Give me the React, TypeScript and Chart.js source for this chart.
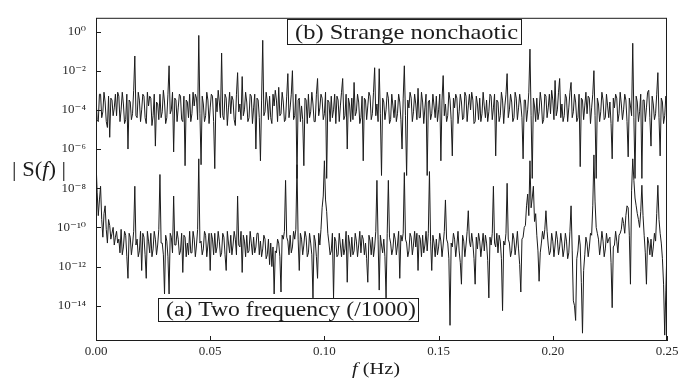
import React, { useEffect, useRef } from "react";
import { Chart, registerables } from "chart.js";

Chart.register(...registerables);

// frequency grid spacing (Hz); log10 |S(f)| values
const FREQ_STEP = 0.0005;

// (b) Strange nonchaotic : log10 |S(f)|
const strangeLog10 = [
  -3.4, -4.5, -4.6, -3.2, -3.2, -4.4, -4.1, -3.1, -3.6, -4.6, -4.9, -3.3, -5.4, -3.4, -3.5, -4.3, -3.9, -3.2, -4.3, -3.1,
  -3.3, -4.6, -4.0, -3.1, -3.7, -4.7, -4.5, -3.2, -6.0, -3.5, -3.6, -4.5, -4.2, -3.0, -1.25, -4.3, -4.4, -3.1, -3.5, -4.6,
  -4.0, -3.2, -3.3, -4.4, -4.7, -3.1, -3.8, -3.3, -3.4, -4.8, -4.3, -3.2, -5.85, -3.6, -3.7, -4.5, -3.2, -4.4, -4.1, -3.0,
  -3.6, -4.7, -4.4, -3.2, -1.75, -4.2, -4.0, -3.1, -6.15, -3.4, -3.5, -4.6, -3.9, -3.2, -3.3, -4.5, -4.6, -3.3, -6.85, -3.5,
  -3.6, -4.4, -3.2, -4.6, -4.2, -3.1, -3.8, -3.2, -3.4, -4.5, -0.2, -4.2, -6.8, -3.3, -3.7, -4.6, -4.3, -3.1, -3.5, -4.7,
  -3.9, -3.2, -3.3, -4.6, -7.0, -3.4, -4.1, -3.0, -3.6, -4.4, -1.1, -4.3, -4.5, -3.2, -3.4, -4.8, -3.9, -3.1, -4.2, -3.3,
  -3.5, -4.5, -4.8, -3.2, -2.1, -4.1, -3.7, -4.5, -2.3, -4.3, -4.0, -3.1, -3.6, -4.6, -4.4, -3.2, -3.3, -4.7, -3.9, -3.2,
  -6.0, -3.4, -3.5, -4.4, -6.6, -3.5, -0.45, -4.3, -4.1, -3.1, -3.6, -4.5, -3.3, -4.4, -4.7, -3.2, -3.8, -3.0, -3.5, -4.6,
  -2.85, -4.3, -4.2, -3.1, -3.6, -4.6, -4.5, -3.3, -2.15, -4.4, -3.9, -3.2, -2.0, -4.5, -4.3, -3.2, -7.5, -3.5, -3.4, -4.6,
  -3.8, -4.5, -6.85, -3.4, -3.5, -4.7, -3.2, -4.4, -4.1, -3.1, -3.7, -4.6, -4.6, -3.2, -2.4, -4.3, -3.9, -3.2, -3.4, -4.5,
  -4.2, -3.1, -7.5, -3.5, -3.6, -4.6, -3.3, -4.4, -4.0, -3.2, -4.7, -3.3, -3.5, -4.6, -3.8, -3.1, -2.4, -4.5, -4.3, -3.2,
  -6.0, -3.4, -3.7, -4.6, -3.4, -4.5, -2.6, -4.3, -4.1, -3.2, -3.6, -4.7, -4.4, -3.3, -6.6, -3.4, -3.5, -4.5, -3.8, -3.1,
  -3.3, -4.5, -4.2, -3.1, -1.85, -4.3, -3.7, -4.6, -1.9, -4.2, -7.35, -3.4, -3.6, -4.5, -4.0, -3.1, -3.4, -4.7, -4.5, -3.2,
  -3.8, -4.4, -3.5, -4.6, -4.2, -3.2, -3.6, -4.5, -6.0, -3.4, -1.75, -4.3, -7.35, -3.5, -3.9, -3.1, -3.4, -4.6, -4.1, -3.2,
  -3.7, -4.5, -2.9, -4.4, -4.4, -3.1, -3.6, -4.7, -3.9, -3.2, -7.35, -3.6, -3.5, -4.5, -4.2, -3.2, -3.8, -4.4, -3.3, -4.6,
  -4.0, -3.2, -6.6, -3.5, -2.25, -4.3, -3.7, -4.6, -4.3, -3.1, -3.5, -4.5, -6.35, -3.4, -3.9, -3.2, -3.4, -4.7, -4.1, -3.2,
  -3.6, -4.5, -4.4, -3.1, -3.3, -4.6, -3.8, -3.2, -4.0, -3.1, -3.5, -4.7, -4.6, -3.3, -3.7, -4.5, -3.4, -4.6, -4.2, -3.1,
  -3.8, -4.4, -3.5, -4.6, -4.1, -3.2, -3.3, -4.5, -3.9, -3.2, -6.35, -3.5, -3.6, -4.6, -4.3, -3.1, -3.5, -4.7, -3.8, -3.2,
  -2.15, -4.4, -4.0, -3.2, -3.6, -4.6, -4.4, -3.1, -3.4, -4.5, -3.9, -3.2, -3.7, -4.4, -6.5, -3.5, -3.5, -4.6, -4.0, -3.1,
  -0.9, -4.3, -7.5, -3.4, -3.8, -4.6, -3.4, -4.5, -4.1, -3.1, -3.6, -4.7, -4.5, -3.2, -3.3, -4.4, -3.9, -3.2, -4.2, -3.0,
  -3.5, -4.5, -2.5, -4.3, -4.0, -3.1, -2.4, -4.4, -3.7, -4.6, -4.3, -3.2, -3.4, -4.6, -3.9, -3.1, -2.6, -4.4, -4.1, -3.2,
  -3.6, -4.6, -4.4, -3.2, -6.9, -3.4, -3.5, -4.5, -3.8, -3.1, -4.2, -3.3, -3.4, -4.7, -3.9, -3.2, -2.0, -4.3, -7.5, -3.4,
  -3.7, -4.6, -4.1, -3.1, -3.5, -4.5, -4.4, -3.2, -3.8, -4.4, -3.6, -4.7, -6.5, -3.4, -3.9, -3.2, -3.4, -4.6, -4.2, -3.1,
  -3.7, -4.5, -4.0, -3.2, -3.5, -4.6, -6.4, -3.4, -3.8, -4.3, -0.6, -4.4, -7.5, -3.3, -3.6, -4.6, -4.1, -3.2, -7.5, -3.5,
  -3.5, -4.6, -3.9, -3.1, -3.0, -4.4, -5.85, -3.3, -3.7, -4.5, -4.2, -3.2, -2.1, -4.4, -6.35, -3.4, -3.6, -4.7, -4.3, -3.3,
  -3.9,
];

// (a) Two frequency (/1000) : log10 |S(f)|
const twoFreqLog10 = [
  -6.6, -8.2, -9.4, -8.6, -7.9, -9.6, -10.5, -9.3, -8.9, -10.1, -10.8, -9.6, -9.9, -10.6, -10.3, -10.0, -10.9, -10.5, -10.2, -10.8,
  -10.6, -11.3, -10.1, -11.4, -11.0, -10.2, -10.4, -11.5, -12.6, -10.3, -10.5, -11.4, -10.9, -10.2, -7.9, -10.9, -10.6, -11.5, -11.2, -10.2,
  -12.2, -10.3, -10.5, -11.4, -12.6, -10.2, -10.7, -11.3, -10.3, -11.5, -11.1, -10.2, -10.6, -11.4, -10.9, -10.1, -7.3, -10.8, -10.8, -11.4,
  -13.4, -10.4, -10.7, -11.5, -13.4, -10.3, -10.5, -11.3, -8.4, -10.9, -10.9, -10.2, -10.6, -11.4, -11.2, -10.3, -12.3, -10.4, -10.5, -11.5,
  -10.8, -11.4, -10.2, -11.3, -11.3, -10.2, -10.6, -11.5, -10.9, -10.1, -6.5, -10.8, -10.7, -11.4, -11.1, -10.2, -10.4, -11.5, -10.9, -10.3,
  -12.2, -10.3, -10.6, -11.4, -10.3, -11.3, -11.0, -10.2, -10.7, -11.5, -11.3, -10.3, -10.5, -11.4, -12.2, -10.2, -10.8, -11.3, -10.4, -11.4,
  -10.9, -10.2, -10.6, -11.4, -8.4, -10.9, -11.0, -10.2, -12.3, -10.4, -10.7, -11.5, -10.4, -11.3, -11.2, -10.2, -10.8, -11.4, -10.5, -11.3,
  -11.0, -10.3, -10.3, -11.4, -10.7, -11.5, -11.1, -10.4, -10.6, -11.6, -11.4, -10.6, -11.9, -10.8, -12.0, -11.0, -13.4, -11.2, -11.3, -10.6,
  -10.8, -11.5, -13.3, -10.4, -10.6, -10.2, -7.6, -10.5, -10.7, -11.4, -10.4, -11.3, -11.0, -10.2, -10.6, -10.1, -6.8, -10.6, -12.2, -10.3,
  -10.6, -11.4, -10.9, -10.2, -10.5, -11.5, -11.3, -10.3, -10.8, -11.4, -13.6, -10.4, -10.7, -11.5, -12.6, -10.3, -10.9, -10.1, -9.0, -8.4,
  -6.6, -8.6, -9.2, -10.3, -10.8, -11.4, -11.2, -10.3, -13.6, -10.5, -10.7, -11.5, -11.4, -10.3, -10.9, -11.5, -10.6, -11.4, -11.1, -10.2,
  -12.8, -10.4, -10.8, -11.5, -10.5, -11.4, -11.2, -10.3, -10.7, -11.5, -10.9, -10.2, -11.3, -10.4, -10.6, -11.4, -10.8, -11.6, -12.8, -10.4,
  -10.7, -11.4, -10.5, -11.5, -11.0, -10.2, -7.6, -10.6, -13.2, -10.4, -10.9, -11.3, -10.6, -11.5, -13.6, -10.3, -7.6, -10.5, -10.8, -11.4,
  -11.1, -10.3, -10.6, -11.4, -10.9, -10.2, -12.6, -10.4, -10.7, -10.3, -7.2, -10.6, -10.8, -11.5, -11.2, -10.3, -10.5, -11.4, -10.9, -10.2,
  -11.0, -10.3, -12.2, -10.4, -10.6, -11.5, -10.4, -11.3, -10.9, -10.2, -11.2, -10.3, -7.15, -10.7, -12.2, -10.4, -10.8, -11.5, -10.6, -11.4,
  -11.0, -10.3, -10.7, -11.5, -10.9, -10.2, -8.6, -10.6, -10.8, -11.6, -15.0, -10.8, -11.0, -10.3, -10.6, -11.5, -10.9, -10.2, -11.2, -11.8,
  -12.9, -10.4, -10.7, -11.5, -10.9, -10.2, -9.15, -10.7, -11.0, -10.3, -10.8, -11.6, -12.9, -10.5, -11.1, -10.3, -10.7, -11.5, -10.9, -10.3,
  -11.2, -10.4, -10.8, -11.7, -13.6, -10.5, -10.9, -10.3, -7.9, -10.8, -11.0, -10.3, -11.3, -10.4, -10.7, -11.6, -14.25, -10.7, -10.9, -10.3,
  -7.75, -10.6, -10.8, -11.5, -11.2, -10.3, -10.6, -11.4, -10.9, -10.2, -11.1, -11.9, -13.3, -10.6, -10.5, -10.0, -9.9, -8.9, -8.3, -9.4,
  -6.6, -9.0, -8.5, -7.9, -9.7, -9.3, -10.4, -11.2, -12.75, -11.3, -10.8, -10.2, -10.6, -10.1, -9.15, -10.2, -10.9, -11.4, -11.2, -10.3,
  -10.7, -11.5, -10.9, -10.2, -10.6, -11.4, -11.0, -10.3, -10.8, -11.5, -11.1, -10.3, -10.7, -11.6, -11.3, -10.2, -8.9, -11.2, -13.75, -14.0,
  -14.75, -11.6, -11.2, -10.4, -10.9, -12.8, -15.4, -12.2, -11.4, -10.5, -10.8, -11.5, -11.0, -10.3, -10.4, -8.9, -6.3, -8.7, -10.0, -10.3,
  -10.6, -11.4, -10.9, -10.2, -10.7, -11.5, -11.1, -10.3, -10.8, -10.6, -10.5, -11.8, -14.1, -11.0, -10.9, -10.2, -10.7, -11.3, -10.4, -10.3,
  -10.1, -9.5, -9.8, -10.3, -9.4, -8.9, -9.0, -10.4, -12.9, -8.1, -6.5, -7.6, -8.5, -8.9, -9.3, -9.6, -10.0, -9.2, -7.85, -9.4,
  -10.4, -11.3, -12.9, -10.5, -10.8, -11.4, -10.6, -11.5, -11.0, -10.3, -10.7, -9.3, -7.85, -9.6, -10.3, -10.8, -11.6, -12.9, -15.5, -13.2,
  -11.0,
];

const xTickValues = [0, 0.05, 0.1, 0.15, 0.2, 0.25];
const xTickLabels = ["0.00", "0.05", "0.10", "0.15", "0.20", "0.25"];
const yTickValues = [1, 1e-2, 1e-4, 1e-6, 1e-8, 1e-10, 1e-12, 1e-14];
const yTickLabels = ["10⁰", "10⁻²", "10⁻⁴", "10⁻⁶", "10⁻⁸", "10⁻¹⁰", "10⁻¹²", "10⁻¹⁴"];
const seriesNames = ["(b) Strange nonchaotic", "(a) Two frequency (/1000)"];

const SERIF = "'Liberation Serif', 'DejaVu Serif', serif";
const INK = "#1c1c1c";

function toPoints(logs: number[]) {
  return logs.map((e, i) => ({ x: +(i * FREQ_STEP).toFixed(5), y: Math.pow(10, e) }));
}

function drawFitted(ctx: CanvasRenderingContext2D, parts: { t: string; italic?: boolean }[], x: number, baseline: number, size: number, width: number) {
  let total = 0;
  const widths = parts.map((p) => {
    ctx.font = `${p.italic ? "italic " : ""}${size}px ${SERIF}`;
    const w = ctx.measureText(p.t).width;
    total += w;
    return w;
  });
  const k = width / total;
  ctx.save();
  ctx.translate(x, baseline);
  ctx.scale(k, 1);
  let cx = 0;
  parts.forEach((p, i) => {
    ctx.font = `${p.italic ? "italic " : ""}${size}px ${SERIF}`;
    ctx.fillText(p.t, cx, 0);
    cx += widths[i];
  });
  ctx.restore();
}

const decor = {
  id: "decor",
  afterDraw(chart: any) {
    const { ctx, chartArea: a, scales } = chart;
    ctx.save();
    ctx.strokeStyle = INK;
    ctx.lineWidth = 1;
    ctx.strokeRect(a.left + 0.5, a.top + 0.5, a.right - a.left - 1, a.bottom - a.top - 1);
    ctx.beginPath();
    scales.y.ticks.forEach((t: any) => {
      const y = Math.round(scales.y.getPixelForValue(t.value)) + 0.5;
      ctx.moveTo(a.left, y);
      ctx.lineTo(a.left + 5, y);
    });
    scales.x.ticks.forEach((t: any) => {
      const x = Math.round(scales.x.getPixelForValue(t.value)) + 0.5;
      ctx.moveTo(x, a.bottom);
      ctx.lineTo(x, a.bottom - 5);
    });
    ctx.stroke();

    const box = (text: string, x0: number, y0: number, x1: number, y1: number, tx: number, base: number, size: number, tw: number) => {
      ctx.fillStyle = "#fff";
      ctx.fillRect(x0, y0, x1 - x0, y1 - y0);
      ctx.strokeStyle = INK;
      ctx.lineWidth = 1;
      ctx.strokeRect(x0 + 0.5, y0 + 0.5, x1 - x0, y1 - y0);
      ctx.fillStyle = INK;
      drawFitted(ctx, [{ t: text }], tx, base, size, tw);
    };
    box(seriesNames[0], 287, 19, 521, 44, 295, 39, 21, 223);
    box(seriesNames[1], 158, 298, 418, 321, 166, 316, 20, 250);

    ctx.fillStyle = INK;
    drawFitted(ctx, [{ t: "| S(" }, { t: "f", italic: true }, { t: ") |" }], 12, 176, 21, 54);
    drawFitted(ctx, [{ t: "f", italic: true }, { t: " (Hz)" }], 352, 374, 17, 48);
    ctx.restore();
  },
};

export default function App() {
  const ref = useRef<HTMLCanvasElement>(null);
  useEffect(() => {
    document.body.style.margin = "0";
    const canvas = ref.current!;
    Chart.defaults.font.family = SERIF;
    const chart = new Chart(canvas, {
      type: "line",
      data: {
        datasets: [
          {
            label: seriesNames[0],
            data: toPoints(strangeLog10),
            borderColor: INK,
            borderWidth: 1,
            pointRadius: 0,
            tension: 0,
          },
          {
            label: seriesNames[1],
            data: toPoints(twoFreqLog10),
            borderColor: INK,
            borderWidth: 1,
            pointRadius: 0,
            tension: 0,
          },
        ],
      },
      options: {
        animation: false,
        responsive: false,
        devicePixelRatio: 1,
        layout: { padding: { left: 0, right: 24, top: 11, bottom: 0 } },
        plugins: { legend: { display: false }, tooltip: { enabled: false } },
        scales: {
          x: {
            type: "linear",
            min: 0,
            max: 0.25,
            grid: { display: false, drawTicks: false },
            border: { display: false },
            afterBuildTicks: (s: any) => {
              s.ticks = xTickValues.map((v) => ({ value: v }));
            },
            afterFit: (s: any) => {
              s.height = 38;
            },
            ticks: {
              padding: 3,
              color: "#2a2a2a",
              font: { size: 13, family: SERIF },
              maxRotation: 0,
              callback: (_v: any, i: number) => xTickLabels[i],
            },
          },
          y: {
            type: "logarithmic",
            min: Math.pow(10, -15.8),
            max: Math.pow(10, 0.7),
            grid: { display: false, drawTicks: false },
            border: { display: false },
            afterBuildTicks: (s: any) => {
              s.ticks = yTickValues.map((v) => ({ value: v }));
            },
            afterFit: (s: any) => {
              s.width = 96;
            },
            ticks: {
              padding: 10,
              color: "#2a2a2a",
              font: { size: 13, family: SERIF },
              callback: (_v: any, i: number) => yTickLabels[i],
            },
          },
        },
      },
      plugins: [decor],
    });
    return () => chart.destroy();
  }, []);
  return (
    <div style={{ width: 691, height: 379 }}>
      <canvas ref={ref} width={691} height={379} style={{ display: "block" }} />
    </div>
  );
}
